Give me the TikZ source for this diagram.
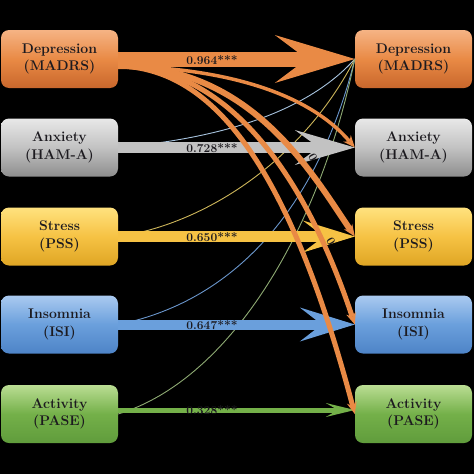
\documentclass[tikz,border=0pt]{standalone}
\usepackage{tikz}
\usetikzlibrary{arrows.meta, shadings, calc}
\usepackage[dvipsnames]{xcolor}

\definecolor{camdai}{HTML}{E98A45}
\definecolor{camtren}{HTML}{F5B384}
\definecolor{camduoi}{HTML}{C9672C}
\definecolor{xamdai}{HTML}{C2C2C2}
\definecolor{xamtren}{HTML}{E8E8E8}
\definecolor{xamduoi}{HTML}{8E8E8E}
\definecolor{vangdai}{HTML}{F6C244}
\definecolor{vangtren}{HTML}{FFE27E}
\definecolor{vangduoi}{HTML}{DFA624}
\definecolor{lamdai}{HTML}{6A9FDC}
\definecolor{lamtren}{HTML}{AACAF0}
\definecolor{lamduoi}{HTML}{4E84C7}
\definecolor{ladai}{HTML}{74B049}
\definecolor{latren}{HTML}{BADD93}
\definecolor{laduoi}{HTML}{609C3C}
\definecolor{manhxam}{HTML}{A7C3DE}
\definecolor{manhvang}{HTML}{CDB65A}
\definecolor{manhlam}{HTML}{6A96CC}
\definecolor{manhla}{HTML}{8EAA73}
\definecolor{chu}{HTML}{1C1A1F}

\begin{document}
\begin{tikzpicture}[x=1pt, y=-1pt,
    hop/.style={rounded corners=8pt, minimum width=117pt, minimum height=58pt,
        inner sep=0pt, align=center, text=chu,
        font=\bfseries\fontsize{14}{17.5}\selectfont},
    dai/.style={line width=#1},
    cong/.style={draw=camdai, line width=#1, -{Stealth[length=12pt, width=10pt, line width=0pt]}},
    manh/.style={line width=0.9pt},
    nhan/.style={text=chu, inner sep=0pt, font=\bfseries\fontsize{12}{14}\selectfont}]

            % Nền đen
            \fill[black] (0,0) rectangle (474,474);

            % Vẽ các hộp bên trái
            \node[hop, top color=camtren, bottom color=camduoi, middle color=camdai] (dep-l) at (59.5,59) {Depression\\(MADRS)};
            \node[hop, top color=xamtren, bottom color=xamduoi, middle color=xamdai] (anx-l) at (59.5,147.5) {Anxiety\\(HAM-A)};
            \node[hop, top color=vangtren, bottom color=vangduoi, middle color=vangdai] (str-l) at (59.5,236.5) {Stress\\(PSS)};
            \node[hop, top color=lamtren, bottom color=lamduoi, middle color=lamdai] (ins-l) at (59.5,324.5) {Insomnia\\(ISI)};
            \node[hop, top color=latren, bottom color=laduoi, middle color=ladai] (act-l) at (59.5,414) {Activity\\(PASE)};

            % Vẽ các hộp bên phải
            \node[hop, top color=camtren, bottom color=camduoi, middle color=camdai] (dep-r) at (413.5,59) {Depression\\(MADRS)};
            \node[hop, top color=xamtren, bottom color=xamduoi, middle color=xamdai] (anx-r) at (413.5,147.5) {Anxiety\\(HAM-A)};
            \node[hop, top color=vangtren, bottom color=vangduoi, middle color=vangdai] (str-r) at (413.5,236.5) {Stress\\(PSS)};
            \node[hop, top color=lamtren, bottom color=lamduoi, middle color=lamdai] (ins-r) at (413.5,324.5) {Insomnia\\(ISI)};
            \node[hop, top color=latren, bottom color=laduoi, middle color=ladai] (act-r) at (413.5,414) {Activity\\(PASE)};

            % Vẽ các đường mảnh về Depression
            \draw[manh, draw=manhxam] (anx-l.east) .. controls (200,140) and (300,120) .. (dep-r.west);
            \draw[manh, draw=manhvang] (str-l.east) .. controls (200,225) and (300,165) .. (dep-r.west);
            \draw[manh, draw=manhlam] (ins-l.east) .. controls (240,300) and (320,200) .. (dep-r.west);
            \draw[manh, draw=manhla] (act-l.east) .. controls (230,380) and (320,230) .. (dep-r.west);

            % Vẽ các mũi tên chính
            \draw[dai=15pt, draw=camdai, -{Stealth[length=80pt, width=48pt, inset=32pt, line width=0pt]}] (dep-l.east) -- (dep-r.west);
            \draw[dai=11pt, draw=xamdai, -{Stealth[length=60pt, width=35pt, inset=24pt, line width=0pt]}] (anx-l.east) -- (anx-r.west);
            \draw[dai=11pt, draw=vangdai, -{Stealth[length=52pt, width=32pt, inset=21pt, line width=0pt]}] (str-l.east) -- (str-r.west);
            \draw[dai=10pt, draw=lamdai, -{Stealth[length=55pt, width=34pt, inset=22pt, line width=0pt]}] (ins-l.east) -- (ins-r.west);
            \draw[dai=5pt, draw=ladai, -{Stealth[length=29pt, width=14pt, inset=12pt, line width=0pt]}] ([yshift=4pt]act-l.east) -- ([yshift=4pt]act-r.west);

            % Vẽ các đường cong từ Depression
            \draw[cong=3.5pt] ([yshift=-7pt]dep-l.east) .. controls (230,68) and (310,95) .. (anx-r.west);
            \draw[cong=6pt] ([yshift=-7pt]dep-l.east) .. controls (250,66) and (310,170) .. (str-r.west);
            \draw[cong=5pt] ([yshift=-7pt]dep-l.east) .. controls (220,66) and (300,160) .. (ins-r.west);
            \draw[cong=5pt] ([yshift=-7pt]dep-l.east) .. controls (215,68) and (290,170) .. (act-r.west);

            % Ghi hệ số
            \node[nhan] (n-dep) at (212,60) {0.964***};
            \node[nhan] (n-anx) at (212,148) {0.728***};
            \node[nhan] (n-str) at (212,237) {0.650***};
            \node[nhan] (n-ins) at (212,325) {0.647***};
            \node[nhan] (n-act) at (212,410) {0.328***};
            \node[nhan, rotate=-60] (n-o1) at (313,157) {0};
            \node[nhan, rotate=-60] (n-o2) at (331,241) {0};

\end{tikzpicture}
\end{document}
